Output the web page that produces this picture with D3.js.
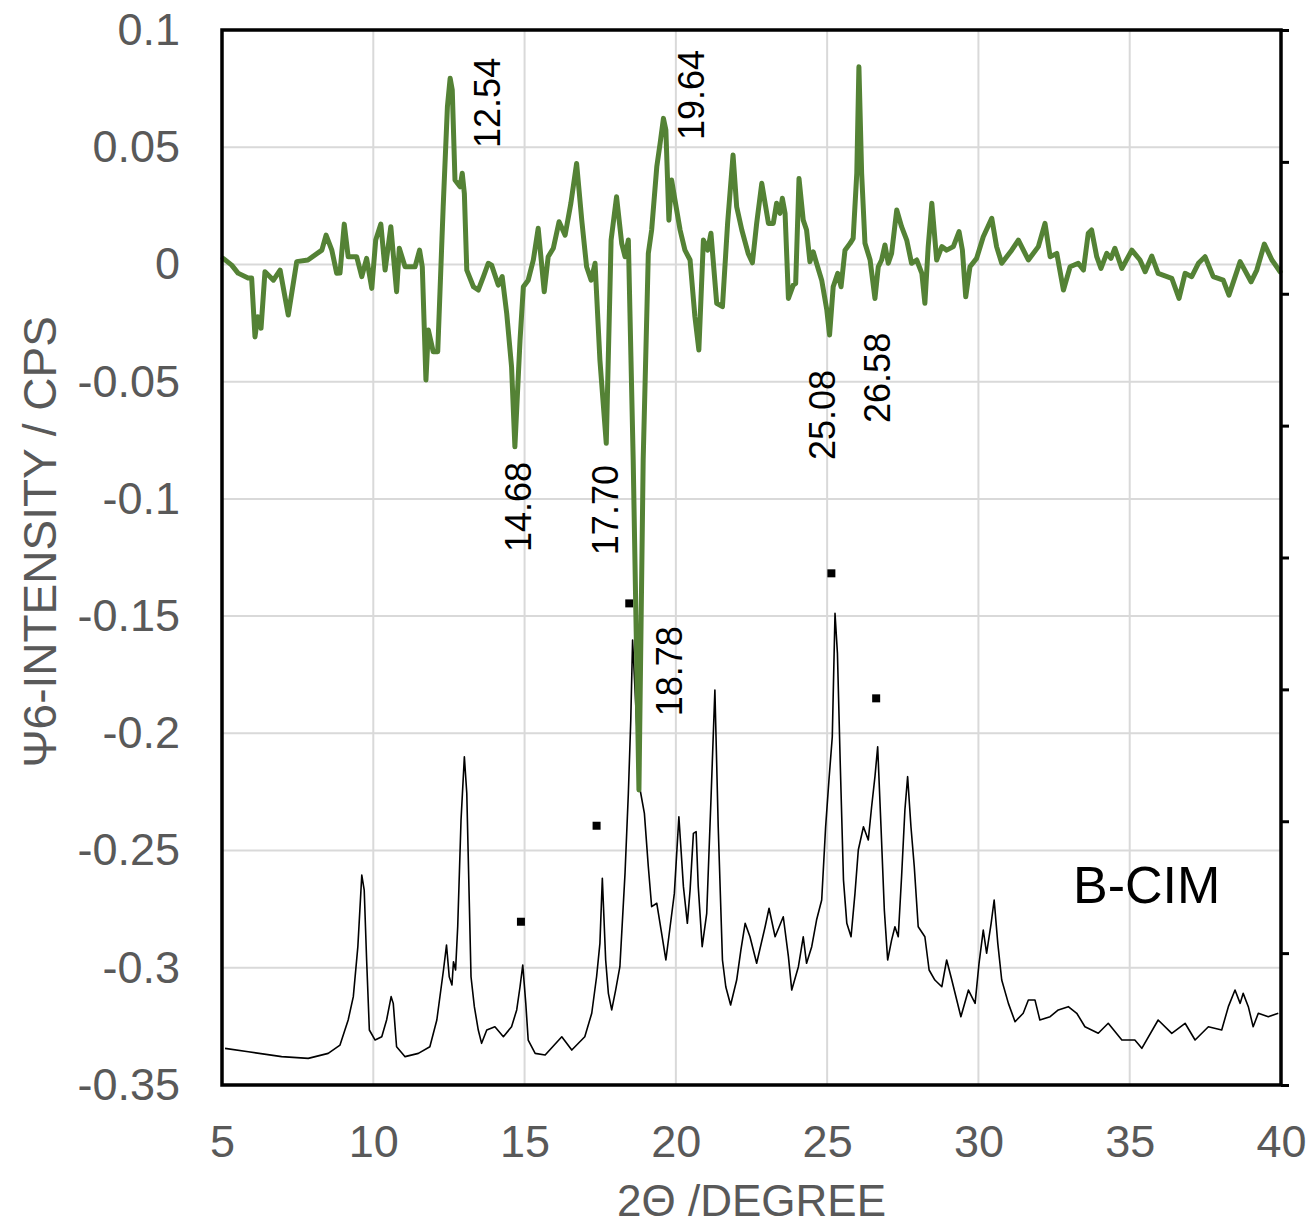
<!DOCTYPE html>
<html>
<head>
<meta charset="utf-8">
<script src="https://cdn.jsdelivr.net/npm/d3@7"></script>
<style>
  body { margin: 0; background: #fff; }
  svg text { font-family: "Liberation Sans", Arial, sans-serif; }
</style>
</head>
<body>
<svg id="chart" width="1314" height="1227"></svg>
<script>
const width = 1314;
const height = 1227;
const margin = {top: 30, right: 33, bottom: 142, left: 222};

// Ψ6 difference curve (green), left axis
const psiX = [5.04,5.32,5.53,5.86,5.98,6.09,6.18,6.29,6.42,6.70,6.92,7.19,7.47,7.84,8.30,8.44,8.63,8.79,8.90,9.04,
  9.17,9.45,9.62,9.78,9.95,10.08,10.25,10.39,10.58,10.77,10.86,11.05,11.38,11.53,11.62,11.74,11.82,11.98,12.13,12.31,
  12.45,12.54,12.61,12.70,12.87,12.94,13.01,13.09,13.31,13.47,13.64,13.80,13.91,14.13,14.26,14.41,14.57,14.68,14.85,14.96,
  15.12,15.29,15.45,15.65,15.78,15.95,16.14,16.34,16.53,16.72,16.89,17.05,17.20,17.33,17.49,17.70,17.86,18.04,18.21,18.32,
  18.43,18.59,18.78,18.92,19.09,19.20,19.37,19.48,19.59,19.67,19.77,19.86,19.97,20.14,20.30,20.47,20.63,20.76,20.91,21.05,
  21.16,21.35,21.54,21.71,21.89,22.01,22.18,22.39,22.53,22.67,22.84,23.06,23.22,23.33,23.44,23.52,23.61,23.72,23.88,23.96,
  24.07,24.21,24.32,24.43,24.54,24.65,24.82,24.99,25.08,25.20,25.35,25.46,25.59,25.76,25.86,25.98,26.05,26.14,26.25,26.42,
  26.58,26.69,26.80,26.91,27.02,27.13,27.30,27.46,27.63,27.79,27.96,28.13,28.23,28.34,28.46,28.62,28.79,28.95,29.17,29.36,
  29.47,29.58,29.72,29.94,30.16,30.44,30.60,30.77,31.10,31.32,31.54,31.65,31.98,32.20,32.37,32.59,32.81,33.03,33.30,33.47,
  33.63,33.74,33.91,34.05,34.24,34.38,34.51,34.74,35.07,35.34,35.51,35.73,35.94,36.39,36.63,36.83,37.05,37.27,37.49,37.76,
  38.09,38.28,38.65,39.01,39.20,39.45,39.70,39.97];
const psiY = [0.0026,-0.0003,-0.0037,-0.0058,-0.0058,-0.0309,-0.0223,-0.0272,-0.0031,-0.0067,-0.0024,-0.0216,0.0012,0.0019,0.0061,0.0125,0.0061,-0.0038,-0.0037,0.0172,
  0.0033,0.0033,-0.0052,0.0026,-0.0102,0.0104,0.0172,-0.0024,0.0161,-0.0116,0.0069,-0.0010,-0.0010,0.0061,-0.0010,-0.0493,-0.0280,-0.0372,-0.0372,0.0246,
  0.0673,0.0794,0.0744,0.0360,0.0331,0.0389,0.0303,-0.0024,-0.0095,-0.0109,-0.0052,0.0005,-0.0003,-0.0088,-0.0052,-0.0209,-0.0437,-0.0778,-0.0323,-0.0095,
  -0.0067,0.0019,0.0154,-0.0116,0.0033,0.0069,0.0182,0.0125,0.0261,0.0431,0.0189,-0.0010,-0.0067,0.0005,-0.0408,-0.0763,0.0104,0.0289,0.0090,0.0033,
  0.0104,-0.0834,-0.2242,-0.0834,0.0047,0.0147,0.0417,0.0517,0.0623,0.0573,0.0189,0.0360,0.0275,0.0147,0.0061,0.0019,-0.0223,-0.0365,0.0104,0.0061,
  0.0133,-0.0166,-0.0180,0.0175,0.0467,0.0246,0.0147,0.0047,0.0007,0.0175,0.0346,0.0175,0.0175,0.0261,0.0218,0.0282,0.0218,-0.0145,-0.0088,-0.0081,
  0.0367,0.0189,0.0147,0.0012,0.0054,0.0005,-0.0067,-0.0195,-0.0301,-0.0095,-0.0038,-0.0095,0.0061,0.0090,0.0111,0.0389,0.0843,0.0389,0.0090,0.0019,
  -0.0145,-0.0010,0.0019,0.0083,0.0005,0.0047,0.0232,0.0161,0.0104,0.0005,0.0019,-0.0038,-0.0166,0.0076,0.0261,0.0019,0.0076,0.0061,0.0076,0.0140,
  0.0061,-0.0138,-0.0010,0.0026,0.0118,0.0197,0.0076,0.0005,0.0061,0.0104,0.0047,0.0019,0.0076,0.0175,0.0033,0.0047,-0.0109,-0.0010,0.0005,-0.0024,
  0.0133,0.0147,0.0033,-0.0017,0.0047,0.0026,0.0069,-0.0017,0.0061,0.0019,-0.0031,0.0036,-0.0038,-0.0059,-0.0145,-0.0038,-0.0052,0.0005,0.0033,-0.0052,
  -0.0067,-0.0131,0.0012,-0.0074,-0.0024,0.0087,0.0019,-0.0031];

// XRD pattern of B-CIM (black), right axis (CPS, unlabelled)
const xrdX = [5.10,5.87,6.97,7.85,8.51,8.90,9.17,9.34,9.49,9.62,9.70,9.78,9.87,10.06,10.28,10.44,10.59,10.66,10.77,11.05,
  11.49,11.87,12.10,12.32,12.42,12.51,12.60,12.65,12.72,12.79,12.90,13.01,13.09,13.23,13.34,13.47,13.58,13.75,14.02,14.30,
  14.57,14.74,14.85,14.94,15.04,15.12,15.35,15.68,16.23,16.56,16.99,17.22,17.38,17.49,17.57,17.68,17.77,17.88,18.01,18.15,
  18.32,18.43,18.51,18.57,18.71,18.82,18.96,19.09,19.20,19.37,19.53,19.67,19.81,19.95,20.10,20.25,20.38,20.47,20.58,20.67,
  20.74,20.87,21.02,21.16,21.29,21.40,21.54,21.65,21.81,22.01,22.15,22.29,22.45,22.67,22.95,23.08,23.28,23.55,23.72,23.83,
  24.05,24.21,24.32,24.49,24.65,24.82,24.95,25.06,25.17,25.26,25.34,25.43,25.54,25.65,25.79,25.92,26.03,26.20,26.36,26.47,
  26.58,26.67,26.78,26.89,27.00,27.13,27.24,27.35,27.46,27.57,27.66,27.77,27.88,28.01,28.23,28.37,28.56,28.79,28.95,29.12,
  29.42,29.67,29.89,30.02,30.16,30.27,30.42,30.52,30.64,30.77,30.99,31.21,31.48,31.65,31.87,32.03,32.37,32.64,32.97,33.25,
  33.52,33.96,34.29,34.74,35.17,35.40,35.94,36.39,36.83,37.16,37.60,38.04,38.26,38.48,38.65,38.75,38.92,39.08,39.25,39.58,
  39.91];
const xrdY = [278,252,215,202,240,303,493,670,1049,1592,1478,948,417,341,366,493,670,619,290,215,
  240,290,493,872,1061,821,758,935,872,1200,2009,2489,2212,821,594,417,316,417,442,366,
  442,569,745,910,619,341,240,227,366,265,366,544,821,1074,1567,948,695,569,720,897,
  1605,2212,2767,3374,2717,2237,2060,1655,1352,1378,1150,948,1200,1453,2034,1504,1226,1478,1908,1921,
  1504,1049,1302,2161,2995,1958,948,745,607,796,1024,1226,1124,923,1200,1340,1124,1276,973,720,
  897,1124,923,1049,1251,1403,1958,2313,2641,3576,3273,2464,1554,1226,1124,1453,1782,1958,1858,2110,
  2338,2565,1958,1327,948,1099,1200,1124,1579,2085,2338,1958,1655,1200,1124,872,796,745,948,796,
  518,720,619,923,1175,999,1226,1403,1074,796,619,480,544,644,644,493,518,569,594,544,
  442,392,468,341,341,278,493,392,468,341,442,417,594,720,619,695,594,442,544,518,
  544];

// square markers above the XRD reflections
const markX = [14.88, 17.38, 18.46, 25.14, 26.62];
const markY = [1238, 1966, 3652, 3880, 2932];

// peak labels: value, and where the rotated text starts (x in degree, y in Ψ6 units)
const peakText = ["12.54", "19.64", "14.68", "17.70", "18.78", "25.08", "26.58"];
const peakLabX = [13.76, 20.50, 14.78, 17.66, 19.77, 24.83, 26.65];
const peakLabY = [0.0497, 0.0531, -0.1227, -0.1240, -0.1927, -0.0834, -0.0676];

const xTicks = [5, 10, 15, 20, 25, 30, 35, 40];
const yTicks = [0.1, 0.05, 0, -0.05, -0.1, -0.15, -0.2, -0.25, -0.3, -0.35];
const rTicks = [0, 1000, 2000, 3000, 4000, 5000, 6000, 7000, 8000];

const x = d3.scaleLinear().domain([5, 40]).range([margin.left, width - margin.right]);
const y = d3.scaleLinear().domain([-0.35, 0.1]).range([height - margin.bottom, margin.top]);
const yR = d3.scaleLinear().domain([0, 8000]).range([height - margin.bottom, margin.top]);

const svg = d3.select("#chart");
const grey = "#595959";

// 网格线
const grid = svg.append("g").attr("stroke", "#d9d9d9").attr("stroke-width", 2);
grid.selectAll("line.v").data(xTicks.slice(1, -1)).join("line")
    .attr("x1", d => x(d)).attr("x2", d => x(d))
    .attr("y1", y(0.1)).attr("y2", y(-0.35));
grid.selectAll("line.h").data(yTicks.slice(1, -1)).join("line")
    .attr("x1", x(5)).attr("x2", x(40))
    .attr("y1", d => y(d)).attr("y2", d => y(d));

// XRD 曲线
const xrd = xrdX.map((d, i) => [d, xrdY[i]]);
svg.append("path")
    .attr("d", d3.line().x(d => x(d[0])).y(d => yR(d[1]))(xrd))
    .attr("fill", "none").attr("stroke", "#000").attr("stroke-width", 1.6)
    .attr("stroke-linejoin", "round");

svg.selectAll("rect.mark").data(markX).join("rect")
    .attr("x", (d, i) => x(d) - 4).attr("y", (d, i) => yR(markY[i]) - 4)
    .attr("width", 8).attr("height", 8).attr("fill", "#000");

// Ψ6 曲线
const psi = psiX.map((d, i) => [d, psiY[i]]);
svg.append("path")
    .attr("d", d3.line().x(d => x(d[0])).y(d => y(d[1]))(psi))
    .attr("fill", "none").attr("stroke", "#548235").attr("stroke-width", 5)
    .attr("stroke-linejoin", "round").attr("stroke-linecap", "round");

// 峰位标注
svg.selectAll("text.peak").data(peakText).join("text")
    .attr("transform", (d, i) => `translate(${x(peakLabX[i])},${y(peakLabY[i])}) rotate(-90)`)
    .attr("dy", "0.36em")
    .attr("font-size", 36).attr("fill", "#000")
    .text(d => d);

svg.append("text")
    .attr("x", 1073).attr("y", 903)
    .attr("font-size", 52).attr("fill", "#000")
    .text("B-CIM");

// 坐标轴
svg.append("g")
    .attr("transform", `translate(0,${height - margin.bottom})`)
    .call(d3.axisBottom(x).tickValues(xTicks).tickSize(0).tickPadding(40).tickFormat(d3.format("d")))
    .call(g => g.select(".domain").remove())
    .call(g => g.selectAll("text").attr("font-size", 45).attr("fill", grey).attr("font-family", null));

svg.append("g")
    .attr("transform", `translate(${margin.left},0)`)
    .call(d3.axisLeft(y).tickValues(yTicks).tickSize(0).tickPadding(42).tickFormat(d => d === 0 ? "0" : String(+d.toFixed(2))))
    .call(g => g.select(".domain").remove())
    .call(g => g.selectAll("text").attr("font-size", 45).attr("fill", grey).attr("font-family", null));

svg.append("g")
    .attr("transform", `translate(${width - margin.right},0)`)
    .call(d3.axisRight(yR).tickValues(rTicks).tickSize(8).tickFormat(""))
    .call(g => g.select(".domain").remove())
    .call(g => g.selectAll("line").attr("stroke", "#000").attr("stroke-width", 3));

// 边框
svg.append("rect")
    .attr("x", x(5)).attr("y", y(0.1))
    .attr("width", x(40) - x(5)).attr("height", y(-0.35) - y(0.1))
    .attr("fill", "none").attr("stroke", "#000").attr("stroke-width", 3.5);

// 轴标题
svg.append("text")
    .attr("x", (x(5) + x(40)) / 2).attr("y", 1216)
    .attr("text-anchor", "middle").attr("font-size", 44).attr("fill", grey)
    .text("2Θ /DEGREE");

svg.append("text")
    .attr("transform", `translate(56,${542}) rotate(-90)`)
    .attr("text-anchor", "middle").attr("font-size", 46).attr("fill", grey)
    .text("Ψ6-INTENSITY / CPS");
</script>
</body>
</html>
